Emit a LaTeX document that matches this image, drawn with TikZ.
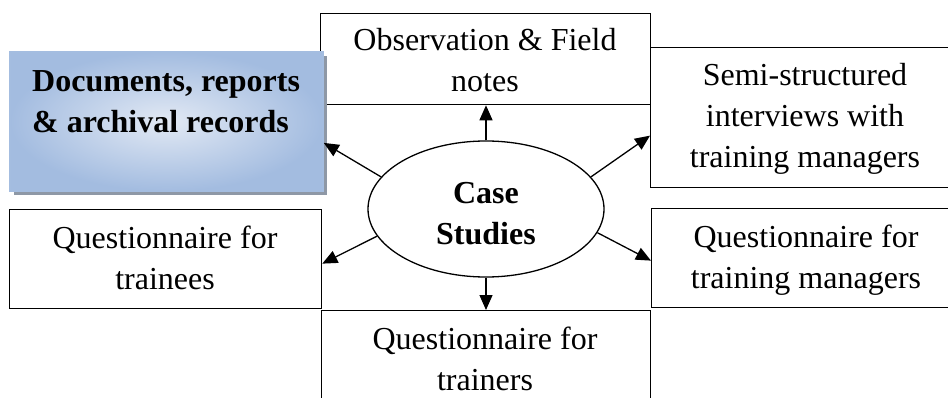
\documentclass[tikz,border=0pt]{standalone}
\usepackage{fontspec}
\setmainfont{Liberation Serif}
\usetikzlibrary{shapes.geometric,arrows.meta,shadows}
\definecolor{docfillin}{HTML}{E2E9F4}
\definecolor{docfillout}{HTML}{A3BCE0}
\definecolor{docborder}{HTML}{A4BDE0}
\definecolor{docshadow}{HTML}{8E98A6}
\tikzset{
  box/.style={draw, line width=1.3pt, fill=white, rectangle, inner sep=0pt, anchor=north west},
  txt/.style={font=\fontsize{32}{41}\selectfont, align=center, anchor=base, inner sep=0pt},
  arr/.style={line width=1.3pt, -{Triangle[length=15pt,width=13pt]}},
}
\begin{document}
\begin{tikzpicture}[x=1pt,y=1pt]
\useasboundingbox (0,0) rectangle (948,-398);
\clip (0,0) rectangle (948,-398);
% boxes
\node[box, minimum width=330pt, minimum height=91pt] (obs) at (320,-13) {};
\node[box, minimum width=320pt, minimum height=140pt] (semi) at (650,-47) {};
\node[box, draw=docborder, line width=1.8pt, shading=radial, inner color=docfillin, outer color=docfillout,
      drop shadow={shadow xshift=4pt, shadow yshift=-4pt, fill=docshadow, opacity=1},
      minimum width=313pt, minimum height=139pt] (doc) at (9,-51) {};
\node[box, minimum width=312pt, minimum height=99pt] (trainees) at (9,-209) {};
\node[box, minimum width=320pt, minimum height=99pt] (tm) at (651,-208) {};
\node[box, minimum width=329pt, minimum height=120pt] (trainers) at (321,-310) {};
\node[ellipse, draw, line width=1.3pt, fill=white, inner sep=0pt, minimum width=236pt, minimum height=136pt] (cs) at (486,-209) {};
% texts (anchored at the baseline of the last line)
\node[txt] (tobs) at (485,-92) {Observation \& Field\\notes};
\node[txt] (tsemi) at (805,-168) {Semi-structured\\interviews with\\training managers};
\node[txt, anchor=base west, align=left, font=\fontsize{32}{41}\selectfont\bfseries] (tdoc) at (32,-133) {Documents, reports\\\& archival records};
\node[txt] (ttrainees) at (165,-290) {Questionnaire for\\trainees};
\node[txt] (ttm) at (806,-288) {Questionnaire for\\training managers};
\node[txt] (ttrainers) at (485,-390) {Questionnaire for\\trainers};
\node[txt, font=\fontsize{32}{41}\selectfont\bfseries] (tcs) at (486,-244) {Case\\Studies};
% arrows
\draw[arr] (cs.north) -- (obs.south -| cs.north);
\draw[arr] (cs.south) -- (trainers.north -| cs.south);
\draw[arr] (cs.163) -- ([yshift=-21.5pt]doc.east);
\draw[arr] (cs.17) -- ([yshift=-18pt]semi.west);
\draw[arr] (cs.194.4) -- ([yshift=-4.5pt]trainees.east);
\draw[arr] (cs.348) -- ([yshift=-2.5pt]tm.west);
\end{tikzpicture}
\end{document}
